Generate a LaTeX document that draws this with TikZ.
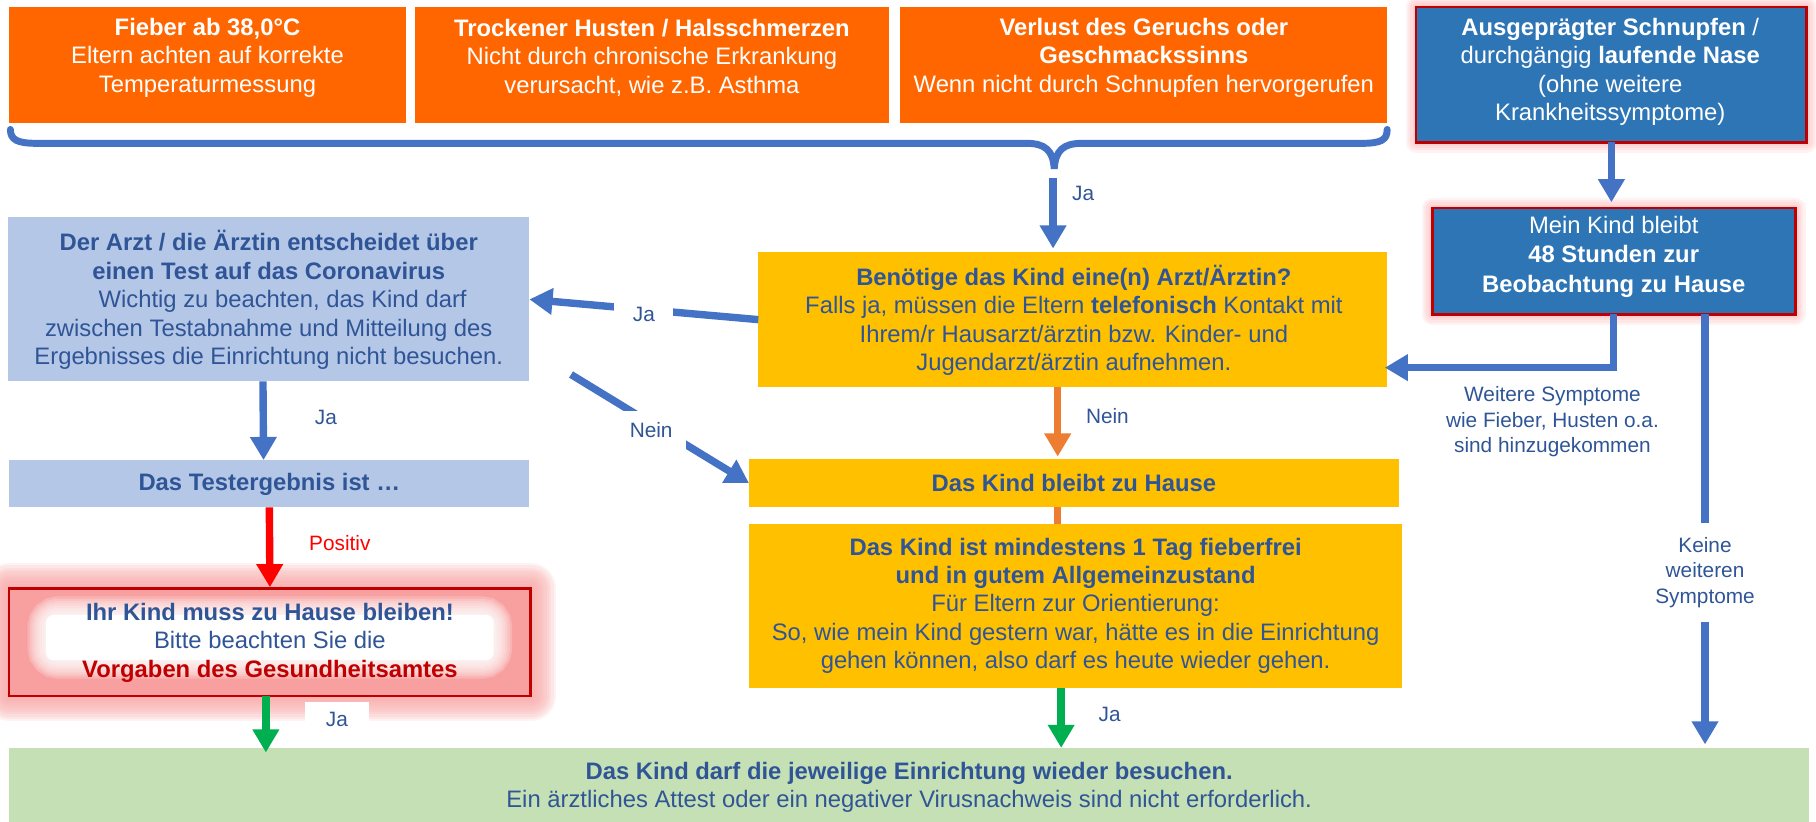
\documentclass[tikz,border=0pt]{standalone}
\usepackage{fontspec}
\setmainfont{Liberation Sans}
\usetikzlibrary{arrows.meta,calc}
\definecolor{orng}{HTML}{FF6600}
\definecolor{dblue}{HTML}{2E75B6}
\definecolor{bred}{HTML}{C00000}
\definecolor{lblue}{HTML}{B4C7E7}
\definecolor{yel}{HTML}{FFC000}
\definecolor{lgreen}{HTML}{C5E0B4}
\definecolor{ablue}{HTML}{4472C4}
\definecolor{aorange}{HTML}{ED7D31}
\definecolor{agreen}{HTML}{00B050}
\definecolor{ared}{HTML}{FF0000}
\definecolor{tblue}{HTML}{2F5597}
\definecolor{pinkg}{RGB}{248,160,160}
\begin{document}
\begin{tikzpicture}[x=0.5pt,y=-0.5pt,
  box/.style={rectangle,inner sep=0pt,outer sep=0pt},
  txt/.style={align=center,inner sep=0pt,font=\fontsize{10.3}{12.3}\selectfont},
  lbl/.style={inner sep=1.5pt,align=center,font=\fontsize{9}{11}\selectfont,text=tblue},
  arr/.style={line width=3.2pt,-{Triangle[width=11pt,length=10pt]}},
  bar/.style={line width=3.2pt},
]
\useasboundingbox (0,0) rectangle (1571,711);

% ---- glows
\foreach \w in {9,7,5,3,1.5}{
  \draw[red!55, opacity=0.09, line width=\w pt, line join=round] (1225,6) rectangle (1563,123);
  \draw[red!55, opacity=0.09, line width=\w pt, line join=round] (1239,180) rectangle (1553,272);
}
\foreach \w in {22,20,18,16,14,12,10,8,6,4,2}{
  \draw[pinkg, opacity=0.14, line width=\w pt, line join=round] (8,509) rectangle (459,602);
}

% ---- top row
\node[box,fill=orng,minimum width=171.5pt,minimum height=50pt] (B1) at (179.5,56) {};
\node[txt,text=white] (B1t) at (179.5,50) {\textbf{Fieber ab 38,0°C}\\Eltern achten auf korrekte\\Temperaturmessung};
\node[box,fill=orng,minimum width=205pt,minimum height=50pt] (B2) at (564,56) {};
\node[txt,text=white] (B2t) at (564,50) {\textbf{Trockener Husten / Halsschmerzen}\\Nicht durch chronische Erkrankung\\verursacht, wie z.B. Asthma};
\node[box,fill=orng,minimum width=210.5pt,minimum height=50pt] (B3) at (989.5,56) {};
\node[txt,text=white] (B3t) at (989.5,50) {\textbf{Verlust des Geruchs oder}\\\textbf{Geschmackssinns}\\Wenn nicht durch Schnupfen hervorgerufen};
\node[box,fill=dblue,draw=bred,line width=1.2pt,minimum width=169pt,minimum height=58.5pt] (B4) at (1394,64.5) {};
\node[txt,text=white] (B4t) at (1393,62) {\textbf{Ausgeprägter Schnupfen} /\\durchgängig \textbf{laufende Nase}\\(ohne weitere\\Krankheitssymptome)};

% ---- brace
\draw[ablue,line width=3pt,line cap=round]
  (9,112) .. controls (9,121) and (15,124) .. (32,124) -- (888,124)
  .. controls (904,124) and (911,130) .. (912,146)
  .. controls (913,130) and (920,124) .. (936,124) -- (1178,124)
  .. controls (1195,124) and (1200,121) .. (1200,112);
\coordinate (bt) at (911,154);

% ---- middle boxes
\node[box,fill=yel,minimum width=272pt,minimum height=58.5pt] (B5) at (928,276.5) {};
\node[txt,text=tblue] (B5t) at (929,277) {\textbf{Benötige das Kind eine(n) Arzt/Ärztin?}\\Falls ja, müssen die Eltern \textbf{telefonisch} Kontakt mit\\Ihrem/r Hausarzt/ärztin bzw. Kinder- und\\Jugendarzt/ärztin aufnehmen.};
\node[box,fill=lblue,minimum width=225.5pt,minimum height=71pt] (B6) at (232.5,259) {};
\node[txt,text=tblue] (B6t) at (232.5,259.5) {\textbf{Der Arzt / die Ärztin entscheidet über}\\\textbf{einen Test auf das Coronavirus}\\\hspace*{12pt}Wichtig zu beachten, das Kind darf\\zwischen Testabnahme und Mitteilung des\\Ergebnisses die Einrichtung nicht besuchen.};
\node[box,fill=dblue,draw=bred,line width=1.2pt,minimum width=157pt,minimum height=46pt] (B12) at (1396,226) {};
\node[txt,text=white,font=\fontsize{10.3}{12.7}\selectfont] (B12t) at (1396,222) {Mein Kind bleibt\\\textbf{48 Stunden zur}\\\textbf{Beobachtung zu Hause}};

\node[box,fill=lblue,minimum width=225pt,minimum height=20.5pt] (B7) at (233,418.5) {};
\node[txt,text=tblue] (B7t) at (233,419) {\textbf{Das Testergebnis ist …}};
\node[box,fill=yel,minimum width=281pt,minimum height=21pt] (B10) at (929,418) {};
\node[txt,text=tblue] (B10t) at (929,418) {\textbf{Das Kind bleibt zu Hause}};
\node[box,fill=yel,minimum width=282.5pt,minimum height=71pt] (B11) at (930.5,524) {};
\node[txt,text=tblue] (B11t) at (930.5,524) {\textbf{Das Kind ist mindestens 1 Tag fieberfrei}\\\textbf{und in gutem Allgemeinzustand}\\Für Eltern zur Orientierung:\\So, wie mein Kind gestern war, hätte es in die Einrichtung\\gehen können, also darf es heute wieder gehen.};

% ---- red box
\node[box,fill=pinkg,minimum width=225.5pt,minimum height=46.5pt] (B8) at (233.5,555.5) {};
\foreach \w in {16,14,12,10,8,6,4,2}{
  \draw[white,opacity=0.2,line width=\w pt,rounded corners=5pt] (40,532) rectangle (427,571);
}
\fill[white,rounded corners=3pt] (40,532) rectangle (427,571);
\draw[bred,line width=1pt] (B8.north west) rectangle (B8.south east);
\node[txt,text=tblue] (B8t) at (233.5,556) {\textbf{Ihr Kind muss zu Hause bleiben!}\\Bitte beachten Sie die\\\textcolor{bred}{\textbf{Vorgaben des Gesundheitsamtes}}};

% ---- bottom
\node[box,fill=lgreen,minimum width=778.5pt,minimum height=32pt] (B9) at (786.5,679) {};
\node[txt,text=tblue] (B9t) at (786.5,681) {\textbf{Das Kind darf die jeweilige Einrichtung wieder besuchen.}\\Ein ärztliches Attest oder ein negativer Virusnachweis sind nicht erforderlich.};

% ---- connectors
\coordinate (ox) at (915,0);
\coordinate (gx) at (918,0);
\coordinate (g1x) at (230,0);
\draw[arr,ablue,shorten >=1.5pt] (bt) -- (bt |- B5.north);
\node[lbl] (lja1) at (937,167) {Ja};

\draw[arr,ablue] (B5.west) -- (B6.east) node[lbl,pos=0.5,fill=white,inner xsep=8pt,yshift=-2pt] (lja2) {Ja};

\coordinate (n0) at (494,324);
\draw[arr,ablue] (n0) -- (B10.west) node[lbl,pos=0.45,fill=white,inner xsep=6pt,inner ysep=5pt,yshift=-3pt] (lnein1) {Nein};

\draw[arr,ablue] ([xshift=-2.5pt]B6.south) -- ([xshift=-2.5pt]B7.north);
\node[lbl] (lja3) at (282,361) {Ja};

\draw[arr,ared,shorten >=0.5pt] (B7.south) -- (B8.north);
\node[lbl,text=ared,fill=white,minimum width=48pt,minimum height=15pt] (lpos) at (294,470) {Positiv};

\draw[arr,agreen,shorten >=-2pt] (B8.south -| g1x) -- (B9.north -| g1x);
\node[lbl,fill=white,minimum width=27.5pt,minimum height=15pt] (lja4) at (291.5,622) {Ja};

\draw[arr,aorange,shorten >=1pt] (B5.south -| ox) -- (B10.north -| ox);
\node[lbl] (lnein2) at (958,360) {Nein};
\draw[bar,aorange] (B10.south -| ox) -- (B11.north -| ox);

\draw[arr,agreen] (B11.south -| gx) -- (B9.north -| gx);
\node[lbl] (lja5) at (960,618) {Ja};

\draw[arr,ablue,shorten >=2.5pt] (B4.south) -- (B4.south |- B12.north);
\draw[arr,ablue,shorten >=-1pt] (B12.south) |- ($(B5.south east)!0.145!(B5.north east)$);
\node[lbl,font=\fontsize{9}{11}\selectfont] (lweit) at (1343,365) {Weitere Symptome\\wie Fieber,\ Husten\ o.a.\\sind\ hinzugekommen};

\coordinate (k1) at (1475,272);
\node[lbl,inner ysep=6pt] (lk) at (1475,495) {Keine\\weiteren\\Symptome};
\draw[bar,ablue] (k1) -- (lk.north);
\draw[arr,ablue,shorten >=1.5pt] (lk.south) -- (lk.south |- B9.north);
\end{tikzpicture}
\end{document}
